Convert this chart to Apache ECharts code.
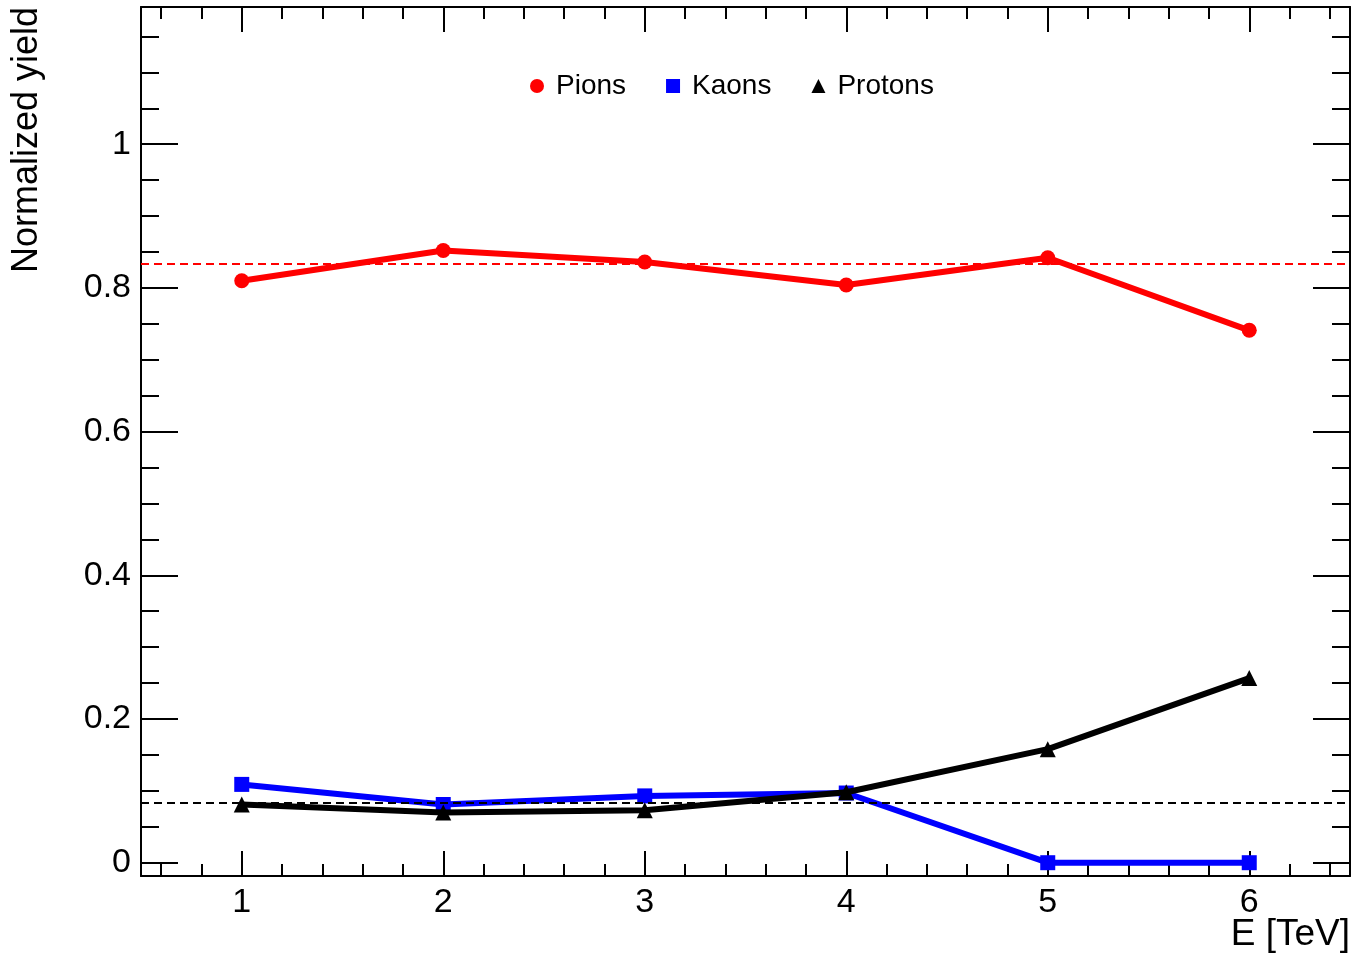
<!DOCTYPE html>
<html>
<head>
<meta charset="utf-8">
<script src="https://cdn.jsdelivr.net/npm/echarts@6/dist/echarts.min.js"></script>
<style>
html,body{margin:0;padding:0;background:#fff;}
#chart{width:1352px;height:956px;}
</style>
</head>
<body>
<div id="chart"></div>
<script>
// ---- data ----
const energies = [1, 2, 3, 4, 5, 6];
const pions   = [0.810, 0.852, 0.836, 0.804, 0.842, 0.741];
const kaons   = [0.109, 0.081, 0.093, 0.097, 0.000, 0.000];
const protons = [0.081, 0.070, 0.073, 0.098, 0.158, 0.257];
const pionRef = [0.834];
const lowRef  = [0.084];
const seriesNames = ['Pions', 'Kaons', 'Protons'];
const xMajorTicks = [1, 2, 3, 4, 5, 6];
const yMajorTicks = [0, 0.2, 0.4, 0.6, 0.8, 1];
const xTitle = 'E [TeV]';
const yTitle = 'Normalized yield';

// ---- axis ranges ----
const xMin = 0.5, xMax = 6.5;
const yMin = -0.0185, yMax = 1.191;

function minorTicks(lo, hi, step, majors) {
  const out = [];
  const n0 = Math.ceil(lo / step - 1e-9), n1 = Math.floor(hi / step + 1e-9);
  for (let n = n0; n <= n1; n++) {
    const v = Math.round(n * step * 1e6) / 1e6;
    if (!majors.some(m => Math.abs(m - v) < 1e-9)) out.push(v);
  }
  return out;
}
const xMinor = minorTicks(xMin, xMax, 0.2, xMajorTicks);
const yMinor = minorTicks(yMin, yMax, 0.05, yMajorTicks);

const FONT = 'Liberation Sans, Arial, Helvetica, sans-serif';

function xAxisDef(pos, ticks, len, withLabels, showLine) {
  return {
    type: 'value', position: pos, min: xMin, max: xMax,
    axisLine: { show: showLine, onZero: false, lineStyle: { color: '#000', width: 2 } },
    axisTick: { show: true, inside: true, length: len, customValues: ticks, lineStyle: { color: '#000', width: 2 } },
    axisLabel: withLabels ? {
      show: true, customValues: ticks, margin: 10, color: '#000', fontSize: 34, fontFamily: FONT,
      formatter: v => String(v)
    } : { show: false },
    splitLine: { show: false }
  };
}
function yAxisDef(pos, ticks, len, withLabels, showLine) {
  return {
    type: 'value', position: pos, min: yMin, max: yMax,
    axisLine: { show: showLine, onZero: false, lineStyle: { color: '#000', width: 2 } },
    axisTick: { show: true, inside: true, length: len, customValues: ticks, lineStyle: { color: '#000', width: 2 } },
    axisLabel: withLabels ? {
      show: true, customValues: ticks, margin: 10, color: '#000', fontSize: 34, fontFamily: FONT,
      padding: [4, 0, 0, 0],
      formatter: v => String(Math.round(v * 10) / 10)
    } : { show: false },
    splitLine: { show: false }
  };
}

const colors = ['#ff0000', '#0000ff', '#000000'];
const symbols = ['circle', 'rect', 'triangle'];
const values = [pions, kaons, protons];

const series = values.map((vals, i) => ({
  name: seriesNames[i],
  type: 'line',
  xAxisIndex: 0, yAxisIndex: 0,
  data: energies.map((e, k) => [e, vals[k]]),
  symbol: symbols[i],
  symbolSize: i === 2 ? 16 : 15,
  showAllSymbol: true,
  lineStyle: { color: colors[i], width: 6 },
  itemStyle: { color: colors[i] },
  emphasis: { disabled: true },
  animation: false,
  z: 3 + i
}));
series.push({
  type: 'line', name: 'refs', xAxisIndex: 0, yAxisIndex: 0, data: [],
  silent: true, animation: false,
  markLine: {
    silent: true, symbol: ['none', 'none'], label: { show: false }, animation: false, precision: 4,
    data: [
      { yAxis: pionRef[0], lineStyle: { color: '#ff0000', type: [8, 5], width: 2, opacity: 1 } },
      { yAxis: lowRef[0], lineStyle: { color: '#000000', type: [8, 5], width: 2, opacity: 1 } }
    ]
  }
});

const chart = echarts.init(document.getElementById('chart'), null, { renderer: 'canvas' });
chart.setOption({
  backgroundColor: '#fff',
  animation: false,
  textStyle: { fontFamily: FONT },
  grid: { left: 141, right: 2, top: 7, bottom: 80, containLabel: false, outerBoundsMode: 'none' },
  xAxis: [
    xAxisDef('bottom', xMajorTicks, 25, true, true),
    xAxisDef('bottom', xMinor, 12, false, false),
    xAxisDef('top', xMajorTicks, 25, false, true),
    xAxisDef('top', xMinor, 12, false, false)
  ],
  yAxis: [
    yAxisDef('left', yMajorTicks, 37, true, true),
    yAxisDef('left', yMinor, 18, false, false),
    yAxisDef('right', yMajorTicks, 37, false, true),
    yAxisDef('right', yMinor, 18, false, false)
  ],
  legend: {
    show: true,
    left: 525, top: 67,
    orient: 'horizontal',
    itemWidth: 14, itemHeight: 14, itemGap: 40,
    selectedMode: false,
    data: [
      { name: 'Pions', icon: 'circle' },
      { name: 'Kaons', icon: 'rect' },
      { name: 'Protons', icon: 'triangle' }
    ],
    textStyle: { fontSize: 28, color: '#000', fontFamily: FONT, padding: [0, 0, 0, 7] }
  },
  graphic: [
    {
      type: 'text', x: 27, y: 7, rotation: Math.PI / 2,
      style: { text: yTitle, fontSize: 36, fontFamily: FONT, fill: '#000', align: 'right', verticalAlign: 'middle' }
    },
    {
      type: 'text', x: 1350, y: 935,
      style: { text: xTitle, fontSize: 37, fontFamily: FONT, fill: '#000', align: 'right', verticalAlign: 'middle' }
    }
  ],
  series: series
});
</script>
</body>
</html>
